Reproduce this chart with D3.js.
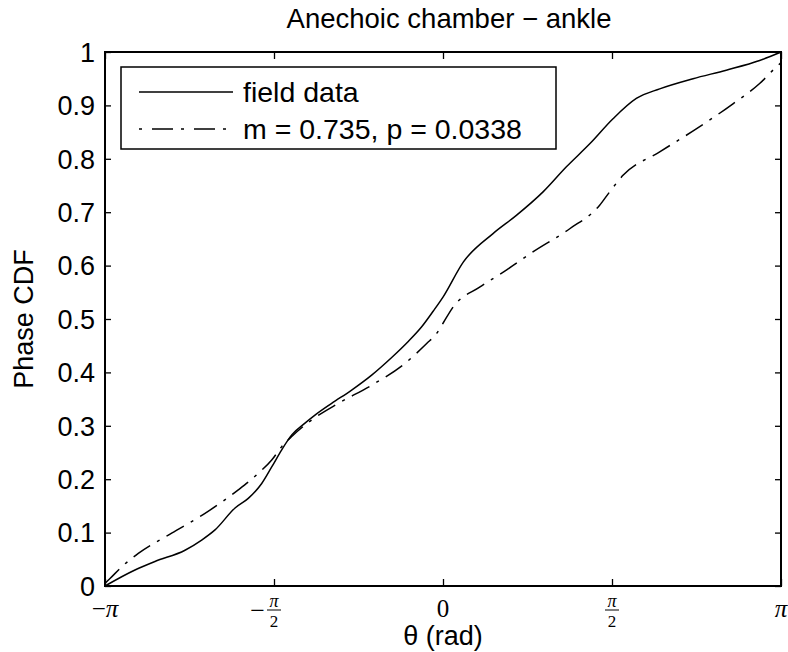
<!DOCTYPE html>
<html>
<head>
<meta charset="utf-8">
<title>Phase CDF</title>
<script src="https://d3js.org/d3.v7.min.js"></script>
<style>
  body { margin: 0; background: #fff; }
  text { font-family: "Liberation Sans", Arial, sans-serif; fill: #000; }
  .tex { font-family: "Liberation Serif", "DejaVu Serif", serif; }
</style>
</head>
<body>
<script>
// field data (solid)
var fieldX = [-3.142, -2.863, -2.677, -2.398, -2.243, -2.119, -1.933, -1.810, -1.685, -1.592,
              -1.499, -1.406, -1.283, -1.190, -1.035, -0.849, -0.663, -0.477, -0.323, -0.200,
              -0.090, 0.000, 0.190, 0.465, 0.682, 0.930, 1.147, 1.364, 1.580, 1.797,
              2.014, 2.324, 2.633, 2.943, 3.142];
var fieldY = [0.000, 0.030, 0.046, 0.067, 0.086, 0.105, 0.146, 0.164, 0.192, 0.223,
              0.255, 0.283, 0.305, 0.320, 0.342, 0.367, 0.395, 0.428, 0.458, 0.485,
              0.515, 0.541, 0.607, 0.660, 0.694, 0.738, 0.785, 0.828, 0.875, 0.913,
              0.931, 0.950, 0.966, 0.984, 1.000];

// fitted model m = 0.735, p = 0.0338 (dash-dot)
var modelX = [-3.142, -3.095, -2.986, -2.832, -2.522, -2.212, -1.903, -1.717, -1.592, -1.499,
              -1.406, -1.220, -0.973, -0.663, -0.353, -0.152, -0.059, 0.003, 0.096, 0.344,
              0.592, 0.839, 1.178, 1.456, 1.549, 1.673, 2.014, 2.354, 2.695, 2.943,
              3.098, 3.142];
var modelY = [0.005, 0.014, 0.036, 0.061, 0.099, 0.136, 0.180, 0.211, 0.236, 0.261,
              0.280, 0.311, 0.342, 0.376, 0.417, 0.454, 0.473, 0.493, 0.523, 0.560,
              0.592, 0.626, 0.669, 0.713, 0.738, 0.769, 0.813, 0.856, 0.903, 0.941,
              0.972, 0.980];

var yTicks = [0, 0.1, 0.2, 0.3, 0.4, 0.5, 0.6, 0.7, 0.8, 0.9, 1];
var xTicks = [-Math.PI, -Math.PI / 2, 0, Math.PI / 2, Math.PI];
var xTickLabels = ["−π", "−π/2", "0", "π/2", "π"];
var legendLabels = ["field data", "m = 0.735, p = 0.0338"];

var W = 788, H = 652;
var pL = 105, pR = 781, pT = 52, pB = 586;

var svg = d3.select("body").append("svg")
  .attr("width", W)
  .attr("height", H);

var x = d3.scaleLinear().domain([-Math.PI, Math.PI]).range([pL, pR]);
var y = d3.scaleLinear().domain([0, 1]).range([pB, pT]);

// ticks on all four sides, pointing inward
var yAxisL = d3.axisRight(y).tickValues(yTicks).tickSize(6).tickFormat("");
var yAxisR = d3.axisLeft(y).tickValues(yTicks).tickSize(6).tickFormat("");
var xAxisB = d3.axisTop(x).tickValues(xTicks).tickSize(7).tickFormat("");
var xAxisT = d3.axisBottom(x).tickValues(xTicks).tickSize(7).tickFormat("");

function styleAxis(g) {
  g.select(".domain").remove();
  g.selectAll(".tick line").attr("stroke", "#000").attr("stroke-width", 1.3);
}
svg.append("g").attr("transform", "translate(" + pL + ",0)").call(yAxisL).call(styleAxis);
svg.append("g").attr("transform", "translate(" + pR + ",0)").call(yAxisR).call(styleAxis);
svg.append("g").attr("transform", "translate(0," + pB + ")").call(xAxisB).call(styleAxis);
svg.append("g").attr("transform", "translate(0," + pT + ")").call(xAxisT).call(styleAxis);

// y tick labels
svg.selectAll(".ylab")
  .data(yTicks)
  .enter().append("text")
  .attr("x", pL - 10)
  .attr("y", function(d){ return y(d); })
  .attr("dy", "0.36em")
  .attr("text-anchor", "end")
  .style("font-size", "27px")
  .text(function(d){ return d3.format("")(d); });

// x tick labels, tex-like
xTicks.forEach(function(v, i) {
  var lab = xTickLabels[i];
  var cx = x(v);
  if (lab.indexOf("/2") > 0) {
    var hasMinus = lab.charAt(0) === "−";
    var g = svg.append("g");
    if (hasMinus) {
      g.append("text").attr("class", "tex")
        .attr("x", cx - 9).attr("y", 619)
        .attr("text-anchor", "end")
        .style("font-size", "26px")
        .text("−");
    }
    g.append("text").attr("class", "tex")
      .attr("x", cx).attr("y", 607)
      .attr("text-anchor", "middle")
      .style("font-size", "18px").style("font-style", "italic")
      .text("π");
    g.append("line")
      .attr("x1", cx - 7).attr("x2", cx + 7)
      .attr("y1", 610).attr("y2", 610)
      .attr("stroke", "#000").attr("stroke-width", 1);
    g.append("text").attr("class", "tex")
      .attr("x", cx).attr("y", 627)
      .attr("text-anchor", "middle")
      .style("font-size", "17px")
      .text("2");
  } else {
    var t = svg.append("text").attr("class", "tex")
      .attr("x", cx).attr("y", 617)
      .attr("text-anchor", "middle")
      .style("font-size", "25px");
    if (lab === "0") {
      t.text("0");
    } else {
      if (lab.charAt(0) === "−") t.append("tspan").text("−");
      t.append("tspan").style("font-style", "italic").text("π");
    }
  }
});

// lines
var line = d3.line()
  .x(function(d){ return x(d[0]); })
  .y(function(d){ return y(d[1]); })
  .curve(d3.curveMonotoneX);

svg.append("path")
  .datum(d3.zip(fieldX, fieldY))
  .attr("d", line)
  .attr("fill", "none")
  .attr("stroke", "#000")
  .attr("stroke-width", 1.5);

svg.append("path")
  .datum(d3.zip(modelX, modelY))
  .attr("d", line)
  .attr("fill", "none")
  .attr("stroke", "#000")
  .attr("stroke-width", 1.5)
  .attr("stroke-dasharray", "20,8,3,8");

// frame
svg.append("rect")
  .attr("x", pL).attr("y", pT)
  .attr("width", pR - pL).attr("height", pB - pT)
  .attr("fill", "none")
  .attr("stroke", "#000")
  .attr("stroke-width", 2);

// legend
var lg = svg.append("g");
lg.append("rect")
  .attr("x", 121).attr("y", 67)
  .attr("width", 435).attr("height", 82)
  .attr("fill", "#fff")
  .attr("stroke", "#000")
  .attr("stroke-width", 1.5);
var legY = [92, 129];
var legDash = [null, "3,10,21,8"];
legendLabels.forEach(function(lab, i) {
  lg.append("line")
    .attr("x1", 139).attr("x2", 233)
    .attr("y1", legY[i]).attr("y2", legY[i])
    .attr("stroke", "#000")
    .attr("stroke-width", 1.5)
    .attr("stroke-dasharray", legDash[i]);
  lg.append("text")
    .attr("x", 243).attr("y", legY[i])
    .attr("dy", "0.36em")
    .style("font-size", "28.5px")
    .text(lab);
});

// title and axis labels
svg.append("text")
  .attr("x", (pL + pR) / 2 + 6).attr("y", 28)
  .attr("text-anchor", "middle")
  .style("font-size", "27.5px")
  .text("Anechoic chamber − ankle");

svg.append("text")
  .attr("x", (pL + pR) / 2).attr("y", 645)
  .attr("text-anchor", "middle")
  .style("font-size", "27px")
  .text("θ (rad)");

svg.append("text")
  .attr("transform", "translate(33," + ((pT + pB) / 2) + ") rotate(-90)")
  .attr("text-anchor", "middle")
  .style("font-size", "27px")
  .text("Phase CDF");
</script>
</body>
</html>
